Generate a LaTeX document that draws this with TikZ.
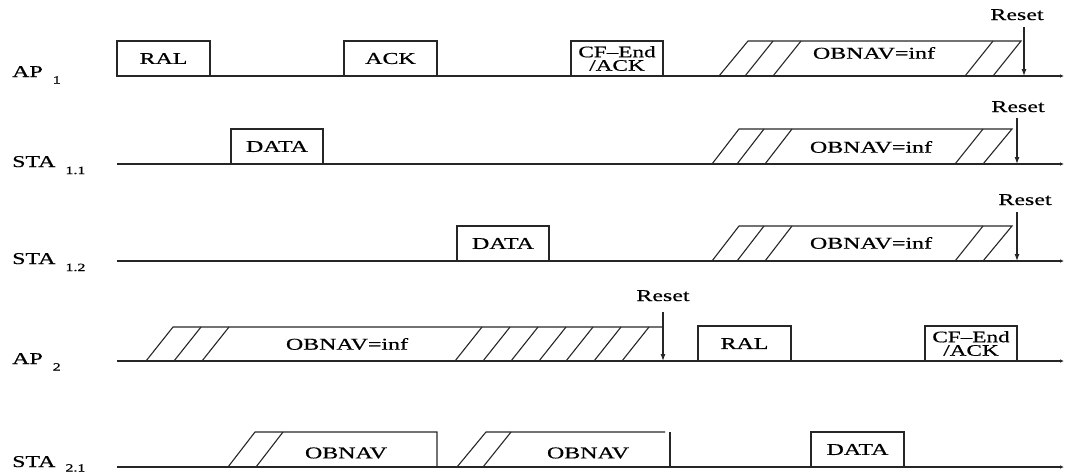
\documentclass[tikz,border=0pt]{standalone}
\usepackage{fontspec}
\setmainfont{Liberation Serif}[FakeStretch=1.45,FakeBold=0.6]
\usetikzlibrary{arrows.meta}
\begin{document}
\begin{tikzpicture}[x=1pt,y=-1pt,
  ln/.style={line width=1.1pt, draw=black!85},
  axis/.style={ln, -{Latex[length=4,width=3.5]}},
  box/.style={ln, draw, rectangle, inner sep=0pt, outer sep=0pt, minimum height=35, anchor=south west, font=\fontsize{16.5}{16.5}\selectfont},
  lbl/.style={inner sep=0pt, font=\fontsize{16.5}{16.5}\selectfont},
  cf/.style={box, align=center, font=\fontsize{16}{13.5}\selectfont},
  rst/.style={ln, -{Latex[length=7,width=5]}}
]
\useasboundingbox (0,0) rectangle (1065,474);
\newcommand{\lsub}[3]{#1\hspace{10pt}\raisebox{#3}{\fontsize{11}{11}\selectfont #2}}

% ---------- row labels
\node[lbl, anchor=base west] (lap1) at (12,77) {\lsub{AP}{1}{-6.5pt}};
\node[lbl, anchor=base west] (lsta11) at (12,167) {\lsub{STA}{1.1}{-7pt}};
\node[lbl, anchor=base west] (lsta12) at (12,264) {\lsub{STA}{1.2}{-7pt}};
\node[lbl, anchor=base west] (lap2) at (12,364) {\lsub{AP}{2}{-6.5pt}};
\node[lbl, anchor=base west] (lsta21) at (12,467) {\lsub{STA}{2.1}{-4.5pt}};

% ---------- time axes
\foreach \n/\y in {a/76, b/164, c/261, d/361, e/467}{
  \coordinate (s\n) at (117,\y);
  \coordinate (e\n) at (1064,\y);
  \draw[axis] (s\n) -- (e\n);
}

% ---------- AP1
\node[box, minimum width=93] (ral1) at (117,76) {RAL};
\node[box, minimum width=93] (ack1) at (344,76) {ACK};
\node[cf, minimum width=92] (cf1) at (571,76) {CF\textendash End\\/ACK};
\draw[ln] (719,76) -- (748,41) -- (1021,41) -- (993,76);
\draw[ln] (745,76) -- (773,41) (773,76) -- (801,41) (965,76) -- (993,41);
\node[lbl] (ob1) at (874,53) {OBNAV=inf};
\node[lbl, anchor=base] (rs1) at (1017,20) {Reset};
\coordinate (rs1a) at (1024,27);
\coordinate (rs1b) at (1024,76);
\draw[rst] (rs1a) -- (rs1b);

% ---------- STA1.1
\node[box, minimum width=92] (data11) at (231,164) {DATA};
\draw[ln] (712,164) -- (739,129) -- (1012,129) -- (983,164);
\draw[ln] (737,164) -- (764,129) (765,164) -- (792,129) (955,164) -- (983,129);
\node[lbl] (ob2) at (871,147) {OBNAV=inf};
\node[lbl, anchor=base] (rs2) at (1018,112) {Reset};
\coordinate (rs2a) at (1017,118);
\coordinate (rs2b) at (1017,164);
\draw[rst] (rs2a) -- (rs2b);

% ---------- STA1.2
\node[box, minimum width=92] (data12) at (457,261) {DATA};
\draw[ln] (712,261) -- (739,226) -- (1012,226) -- (983,261);
\draw[ln] (737,261) -- (764,226) (765,261) -- (792,226) (955,261) -- (983,226);
\node[lbl] (ob3) at (871,243) {OBNAV=inf};
\node[lbl, anchor=base] (rs3) at (1025,205) {Reset};
\coordinate (rs3a) at (1017,212);
\coordinate (rs3b) at (1017,261);
\draw[rst] (rs3a) -- (rs3b);

% ---------- AP2
\draw[ln] (146,361) -- (173,327) -- (662,327);
\draw[ln] (174,361) -- (201,327) (202,361) -- (229,327);
\foreach \b in {455,483,511,539,566,594,622}{
  \draw[ln] (\b,361) -- ({\b+27},327);
}
\node[lbl] (ob4) at (347,344) {OBNAV=inf};
\node[box, minimum width=93] (ral2) at (698,361) {RAL};
\node[cf, minimum width=92] (cf2) at (925,361) {CF\textendash End\\/ACK};
\node[lbl, anchor=base] (rs4) at (663,301) {Reset};
\coordinate (rs4a) at (663,312);
\coordinate (rs4b) at (663,361);
\draw[rst] (rs4a) -- (rs4b);

% ---------- STA2.1
\draw[ln] (228,467) -- (255,432) -- (437,432) -- (437,467);
\draw[ln] (256,467) -- (283,432);
\node[lbl] (ob5) at (346,453) {OBNAV};
\draw[ln] (457,467) -- (486,432) -- (665,432);
\draw[ln] (483,467) -- (511,432);
\draw[ln] (670,432) -- (670,467);
\node[lbl] (ob6) at (588,453) {OBNAV};
\node[box, minimum width=93] (data21) at (811,467) {DATA};
\end{tikzpicture}
\end{document}
